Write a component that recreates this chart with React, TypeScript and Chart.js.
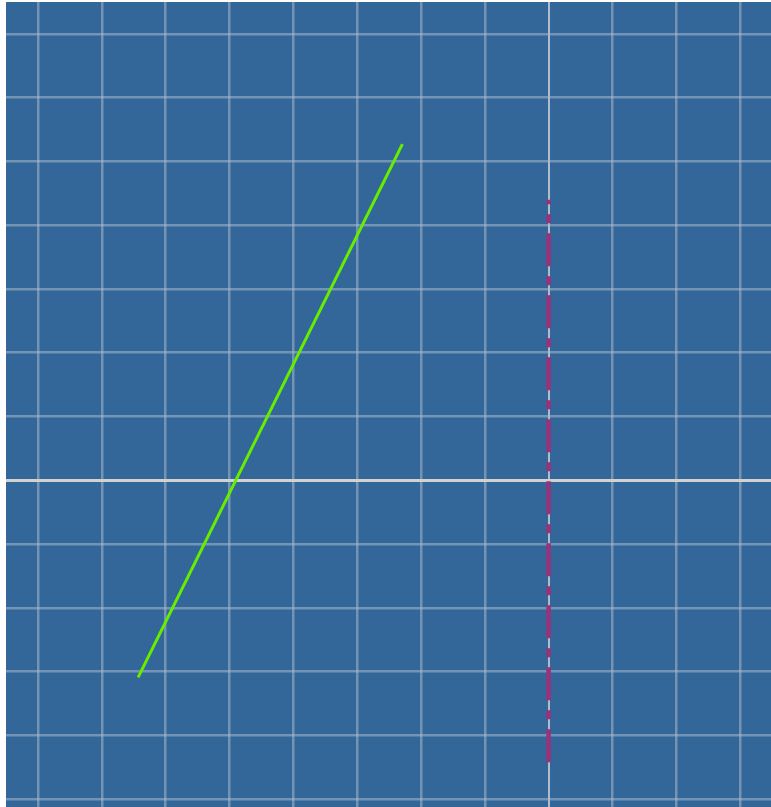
import React, { useEffect, useRef } from "react";
import { Chart, registerables } from "chart.js";

Chart.register(...registerables);

// Data
const greenX = [-6.43, -2.29];
const greenY = [-3.09, 5.27];
const dashX = [0, 0];
const dashY = [-4.42, 4.4];
const xTicks = [-8, -7, -6, -5, -4, -3, -2, -1, 0, 1, 2, 3];
const yTicks = [-5, -4, -3, -2, -1, 0, 1, 2, 3, 4, 5, 6, 7];

const X_MIN = -8.5;
const X_MAX = 3.5;
const Y_MIN = -5.5;
const Y_MAX = 7.5;

const BG = "#336699";
const GRID = "rgba(170,185,205,0.55)";

const bgPlugin = {
  id: "bgFill",
  beforeDraw(chart: any) {
    const { ctx, width, height } = chart;
    ctx.save();
    ctx.fillStyle = BG;
    ctx.fillRect(0, 0, width, height);
    ctx.restore();
  },
};

export default function App() {
  const ref = useRef<HTMLCanvasElement | null>(null);

  useEffect(() => {
    if (!ref.current) return;
    const chart = new Chart(ref.current, {
      type: "scatter",
      data: {
        datasets: [
          {
            data: greenX.map((x, i) => ({ x, y: greenY[i] })),
            showLine: true,
            borderColor: "#66ee00",
            borderWidth: 3,
            pointRadius: 0,
            pointHoverRadius: 0,
          },
          {
            data: dashX.map((x, i) => ({ x, y: dashY[i] })),
            showLine: true,
            borderColor: "#9b3178",
            borderWidth: 4.5,
            borderDash: [33, 10, 9, 10],
            pointRadius: 0,
            pointHoverRadius: 0,
          },
        ],
      },
      options: {
        animation: false,
        responsive: true,
        maintainAspectRatio: false,
        layout: { padding: 0 },
        plugins: {
          legend: { display: false },
          tooltip: { enabled: false },
        },
        scales: {
          x: {
            type: "linear",
            min: X_MIN,
            max: X_MAX,
            afterBuildTicks: (scale: any) => {
              scale.ticks = xTicks.map((v) => ({ value: v }));
            },
            ticks: { display: false },
            border: { display: false },
            grid: {
              drawTicks: false,
              color: (c: any) =>
                c.tick && c.tick.value === 0 ? "rgba(185,192,205,0.95)" : GRID,
              lineWidth: (c: any) => (c.tick && c.tick.value === 0 ? 2 : 2.5),
            },
          },
          y: {
            type: "linear",
            min: Y_MIN,
            max: Y_MAX,
            afterBuildTicks: (scale: any) => {
              scale.ticks = yTicks.map((v) => ({ value: v }));
            },
            ticks: { display: false },
            border: { display: false },
            grid: {
              drawTicks: false,
              color: (c: any) =>
                c.tick && c.tick.value === 0 ? "#d2d2d2" : GRID,
              lineWidth: (c: any) => (c.tick && c.tick.value === 0 ? 3 : 2.5),
            },
          },
        },
      },
      plugins: [bgPlugin],
    });
    return () => chart.destroy();
  }, []);

  return (
    <div
      style={{
        position: "fixed",
        left: 6,
        top: 2,
        width: 765,
        height: 805,
        overflow: "hidden",
      }}
    >
      <div style={{ position: "relative", width: 766, height: 829 }}>
        <canvas ref={ref} />
      </div>
    </div>
  );
}
